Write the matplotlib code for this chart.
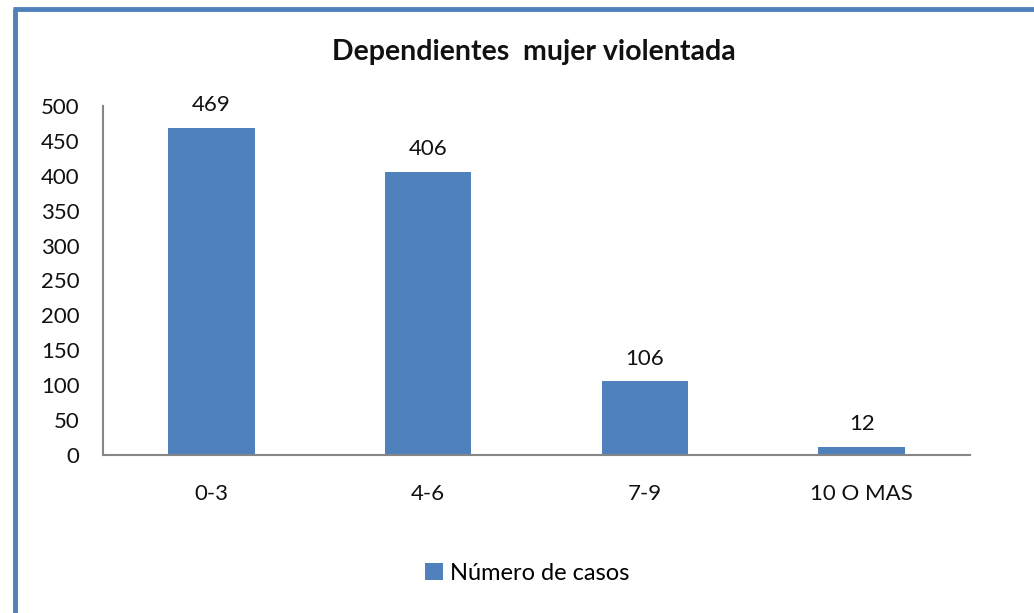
import matplotlib
matplotlib.use("Agg")
import matplotlib.pyplot as plt
from matplotlib.lines import Line2D

categorias = ["0-3", "4-6", "7-9", "10 O MAS"]
casos = [469, 406, 106, 12]
serie = "Número de casos"
titulo = "Dependientes  mujer violentada"

AZUL = "#4f81bd"
plt.rcParams["font.family"] = ["Lato", "DejaVu Sans"]

W, H = 1034, 613
fig = plt.figure(figsize=(W / 100, H / 100), dpi=100)
ax = fig.add_axes([103 / W, 1 - 455 / H, 867 / W, 349 / H])

x = range(len(categorias))
ax.bar(x, casos, width=0.4, color=AZUL, label=serie, zorder=2)
for xi, v in zip(x, casos):
    ax.annotate(str(v), (xi, v), xytext=(0, 9), textcoords="offset points",
                ha="center", va="bottom", fontsize=16, color="#111111")

ax.set_xlim(-0.5, len(categorias) - 0.5)
ax.set_ylim(0, 500)
ax.set_yticks(range(0, 501, 50))
ax.set_xticks(list(x))
ax.set_xticklabels(categorias)
ax.tick_params(axis="both", length=0, labelsize=16, colors="#111111")
ax.tick_params(axis="y", pad=17)
ax.tick_params(axis="x", pad=21)
for s in ("top", "right"):
    ax.spines[s].set_visible(False)
for s in ("left", "bottom"):
    ax.spines[s].set_color("#868686")
    ax.spines[s].set_linewidth(1.5)

fig.text(534 / W, 1 - 52 / H, titulo, ha="center", va="center",
         fontsize=20.5, fontweight="bold", color="#111111")
fig.legend(loc="center", bbox_to_anchor=(527 / W, 1 - 573 / H), frameon=False,
           fontsize=17, handlelength=0.75, handleheight=0.75, handletextpad=0.3)

# blue frame (left and top edges only visible)
fig.add_artist(Line2D([15 / W, 15 / W], [0, 1 - 9 / H], color=AZUL, lw=3.5,
                      transform=fig.transFigure, solid_capstyle="butt"))
fig.add_artist(Line2D([13 / W, 1], [1 - 9 / H, 1 - 9 / H], color=AZUL, lw=3.5,
                      transform=fig.transFigure, solid_capstyle="butt"))

fig.savefig("out.png", dpi=100)
